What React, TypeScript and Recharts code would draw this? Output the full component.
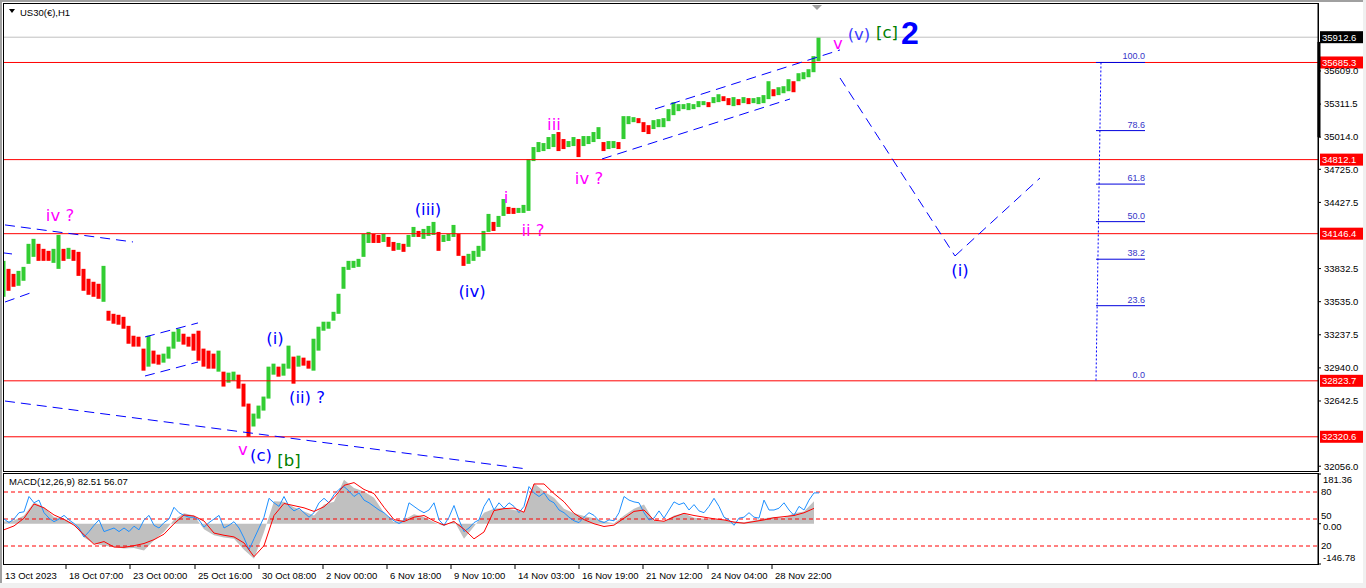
import React from 'react';
import {
  ComposedChart,
  Bar,
  Line,
  Area,
  XAxis,
  YAxis,
  ReferenceLine,
  ReferenceDot,
} from 'recharts';

const FONT = '"Liberation Sans", Arial, sans-serif';
const LABEL_FONT = '"DejaVu Sans", Verdana, sans-serif';
const STEP = 5; // one candle entry every 5 H1 bars
const SPAN = 1314; // bars across the plot, incl. the empty right shift

// price candles (high / low), oldest first
const highs = [
  33902, 33830, 33785, 33812, 33848, 34055, 34100, 34055, 34010, 33992,
  34010, 34135, 34010, 34019, 34001, 33983, 33830, 33741, 33714, 33696,
  33857, 33453, 33426, 33417, 33399, 33318, 33229, 33220, 33113, 33229,
  33095, 33059, 33068, 33131, 33265, 33292, 33247, 33220, 33247, 33274,
  33113, 33095, 33068, 33095, 32906, 32897, 32906, 32879, 32798, 32619,
  32529, 32601, 32682, 32951, 32978, 32951, 32978, 33140, 33041, 33050,
  33032, 33005, 33202, 33310, 33355, 33355, 33444, 33606, 33848, 33902,
  33902, 33920, 34144, 34162, 34144, 34135, 34144, 34117, 34072, 34063,
  34055, 34135, 34207, 34171, 34189, 34216, 34252, 34162, 34135, 34144,
  34225, 34144, 33947, 33965, 33992, 34037, 34171, 34324, 34252, 34306,
  34458, 34387, 34378, 34378, 34405, 34817, 34925, 34970, 34961, 35015,
  35042, 35060, 34997, 34979, 35015, 34997, 35024, 35024, 35060, 35104,
  34970, 34979, 34979, 34970, 35203, 35203, 35194, 35185, 35149, 35122,
  35167, 35176, 35185, 35266, 35328, 35311, 35311, 35320, 35311, 35338,
  35338, 35329, 35374, 35400, 35382, 35365, 35374, 35356, 35374, 35365,
  35365, 35374, 35392, 35517, 35445, 35463, 35472, 35535, 35517, 35589,
  35598, 35625, 35742, 35912,
];
const lows = [
  33579, 33633, 33669, 33678, 33723, 33875, 33938, 33902, 33902, 33902,
  33884, 33830, 33902, 33920, 33902, 33767, 33633, 33597, 33579, 33561,
  33534, 33364, 33337, 33328, 33292, 33157, 33131, 33131, 32915, 32951,
  32978, 32969, 32987, 33023, 33113, 33175, 33149, 33131, 33095, 33005,
  32951, 32933, 32933, 32906, 32772, 32807, 32825, 32754, 32592, 32321,
  32413, 32484, 32556, 32664, 32879, 32861, 32870, 32933, 32798, 32951,
  32960, 32933, 32915, 33095, 33274, 33292, 33364, 33426, 33651, 33821,
  33839, 33848, 33938, 34063, 34063, 34063, 34072, 34028, 33992, 34001,
  33983, 34028, 34117, 34117, 34100, 34126, 34135, 33992, 34072, 34081,
  34117, 33947, 33857, 33875, 33902, 33938, 33992, 34162, 34171, 34207,
  34306, 34324, 34324, 34333, 34333, 34351, 34799, 34880, 34889, 34907,
  34925, 34889, 34907, 34925, 34934, 34835, 34934, 34952, 34970, 34997,
  34889, 34907, 34916, 34907, 34997, 35131, 35149, 35140, 35060, 35042,
  35087, 35104, 35104, 35158, 35212, 35248, 35266, 35257, 35266, 35284,
  35302, 35284, 35320, 35329, 35338, 35302, 35293, 35302, 35320, 35311,
  35320, 35311, 35320, 35356, 35382, 35392, 35409, 35427, 35418, 35517,
  35535, 35553, 35598, 35697,
];

// MACD main (histogram) and signal, one value every 10 bars
const histogram = [
  8, 12, 30, 78, 60, 25, 18, 0, -50, -72,
  -80, -85, -90, -88, -98, -60, -30, 15, 38, 30,
  -20, -42, -50, -55, -95, -128, -30, 82, 80, 60,
  45, 30, 70, 80, 160, 130, 118, 95, 40, 5,
  15, 35, 25, 5, -8, 12, -55, -10, 40, 55,
  58, 50, 42, 148, 118, 95, 55, 38, 28, 20,
  8, 2, 30, 55, 70, 10, 8, 30, 38, 22,
  18, 16, 14, 8, 5, 12, 20, 25, 22, 38,
  45, 82,
];
const signal = [
  -22, -8, 20, 72, 58, 32, 16, -5, -40, -75,
  -65, -85, -86, -80, -72, -58, -38, 0, 32, 28,
  10, -34, -42, -48, -70, -120, -80, 30, 74, 66,
  58, 45, 62, 95, 140, 150, 125, 110, 60, 15,
  8, 24, 30, 10, -5, 8, -20, -55, -30, 48,
  55, 57, 42, 145, 145, 110, 80, 38, 15, 0,
  -10, -5, 20, 45, 50, 13, 9, 25, 38, 30,
  24, 18, 14, 6, 2, 8, 14, 22, 26, 30,
  40, 56,
];
// 0-100 oscillator drawn in the same window, one value every 5 bars
const oscillator = [
  50, 46, 50, 57, 58, 75, 68, 71, 57, 51,
  47, 50, 54, 49, 45, 40, 30, 36, 43, 49,
  36, 38, 40, 36, 40, 36, 42, 38, 49, 54,
  43, 40, 46, 50, 63, 57, 54, 52, 52, 49,
  41, 46, 50, 54, 40, 43, 47, 40, 29, 16,
  28, 40, 52, 73, 68, 64, 75, 64, 59, 62,
  57, 52, 57, 68, 73, 68, 77, 83, 86, 81,
  75, 79, 71, 68, 64, 60, 57, 52, 48, 45,
  48, 68, 64, 60, 57, 60, 68, 49, 43, 52,
  65, 49, 36, 40, 46, 49, 64, 73, 60, 68,
  62, 68, 64, 57, 64, 86, 79, 75, 79, 71,
  68, 60, 57, 52, 48, 46, 52, 57, 54, 48,
  46, 49, 48, 57, 75, 71, 69, 68, 57, 49,
  51, 59, 51, 60, 69, 66, 68, 60, 66, 59,
  57, 64, 73, 64, 52, 49, 43, 51, 52, 57,
  52, 51, 71, 60, 60, 62, 68, 60, 54, 64,
  60, 71, 79, 79,
];

const priceTicks = [35609, 35311.5, 35014, 34725, 34427.5, 33832.5, 33535, 33237.5, 32940, 32642.5, 32056];
const macdTicks = [181.36, 0, -146.78];
const oscLevels = [80, 50, 20];
const timeTicks = [0, 62, 126, 191, 255, 319, 383, 447, 511, 575, 639, 704, 768];
const timeLabels = [
  '13 Oct 2023', '18 Oct 07:00', '23 Oct 00:00', '25 Oct 16:00', '30 Oct 08:00', '2 Nov 00:00',
  '6 Nov 18:00', '9 Nov 10:00', '14 Nov 03:00', '16 Nov 19:00', '21 Nov 12:00', '24 Nov 04:00', '28 Nov 22:00',
];

const redLevels = [35685.3, 34812.1, 34146.4, 32823.7, 32320.6];
const lastPrice = 35912.6;
const fibLevels = ['100.0', '78.6', '61.8', '50.0', '38.2', '23.6', '0.0'];
const fibPrices = [35685.3, 35072.9, 34592.2, 34254.5, 33916.8, 33499.0, 32823.7];

const MAGENTA = '#ff00ff';
const BLUE = '#0000ff';
const GREEN_TXT = '#008000';

// trendlines drawn on the chart: [t1, p1, t2, p2]
const trendlines = [
  [1, 34225, 129, 34072],
  [0, 33973, 8, 33964],
  [1, 33532, 29, 33622],
  [141, 33218, 194, 33344],
  [141, 32867, 194, 32993],
  [1, 32642, 523, 32031],
  [598, 34818, 786, 35357],
  [651, 35267, 836, 35798],
  [836, 35546, 951, 33946],
  [951, 33946, 1036, 34647],
];

const waves = [
  { text: 'iv ?', t: 56, p: 34314, color: MAGENTA },
  { text: 'v', t: 239, p: 32211, color: MAGENTA },
  { text: '(c)', t: 257, p: 32157, color: BLUE },
  { text: '[b]', t: 285, p: 32112, color: GREEN_TXT },
  { text: '(i)', t: 271, p: 33209, color: BLUE },
  { text: '(ii) ?', t: 303, p: 32678, color: BLUE },
  { text: '(iii)', t: 424, p: 34368, color: BLUE },
  { text: '(iv)', t: 468, p: 33631, color: BLUE },
  { text: 'i', t: 502, p: 34476, color: MAGENTA },
  { text: 'ii ?', t: 529, p: 34180, color: MAGENTA },
  { text: 'iii', t: 550, p: 35133, color: MAGENTA },
  { text: 'iv ?', t: 585, p: 34647, color: MAGENTA },
  { text: 'v', t: 834, p: 35862, color: MAGENTA },
  { text: '(v)', t: 855, p: 35942, color: '#3c3cff' },
  { text: '[c]', t: 883, p: 35960, color: GREEN_TXT },
  { text: '(i)', t: 956, p: 33820, color: BLUE },
];

const candles = highs.map((h, i) => ({
  t: i * STEP,
  range: [lows[i], h],
  up: i === 0 || h + lows[i] >= highs[i - 1] + lows[i - 1],
}));

const macdRows = oscillator.map((v, i) => ({
  t: i * STEP,
  osc: v,
  hist: i % 2 === 0 ? histogram[i / 2] : undefined,
  sig: i % 2 === 0 ? signal[i / 2] : undefined,
}));

function Candle(props: any) {
  const { x, y, width, height, payload } = props;
  const top = height < 0 ? y + height : y;
  const h = Math.max(1, Math.abs(height));
  return <rect x={x} y={top} width={width} height={h} fill={payload.up ? '#32cd32' : '#ff0000'} />;
}

function PriceTick({ x, y, payload }: any) {
  return (
    <g>
      <line x1={x} x2={x + 3} y1={y} y2={y} stroke="#000" />
      <text x={x + 6} y={y} dy="0.35em" fontSize={9.5} fontFamily={FONT} fill="#000">
        {payload.value.toFixed(1)}
      </text>
    </g>
  );
}

function MacdTick({ x, y, payload }: any) {
  const v = payload.value;
  const shift = v === macdTicks[0] ? 6 : v === macdTicks[2] ? -6 : 3;
  return (
    <g>
      <line x1={x} x2={x + 3} y1={y} y2={y} stroke="#000" />
      <text x={x + 5} y={y + shift} dy="0.35em" fontSize={9.5} fontFamily={FONT} fill="#000">
        {v.toFixed(2)}
      </text>
    </g>
  );
}

function TimeTick({ x, y, payload }: any) {
  const i = timeTicks.indexOf(payload.value);
  return (
    <g>
      {i > 0 && <line x1={x} x2={x} y1={y + 1} y2={y + 5} stroke="#000" />}
      <text x={i > 0 ? x + 3 : x + 1} y={y + 15} fontSize={9.5} fontFamily={FONT} fill="#000">
        {timeLabels[i]}
      </text>
    </g>
  );
}

function PriceTag({ viewBox, text, bg }: any) {
  if (!viewBox) return null;
  const x = viewBox.x + viewBox.width + 2;
  return (
    <g>
      <rect x={x} y={viewBox.y - 6} width={44} height={12} fill={bg} />
      <text x={x + 2} y={viewBox.y} dy="0.35em" fontSize={9.5} fontFamily={FONT} fill="#fff">
        {text}
      </text>
    </g>
  );
}

function LevelTag({ viewBox, text }: any) {
  if (!viewBox) return null;
  // the 50 level sits right on the 0.00 tick, nudge it up a little
  const lift = text === '50' ? -3 : 0;
  return (
    <text x={viewBox.x + viewBox.width + 3} y={viewBox.y + lift} dy="0.35em" fontSize={9.5} fontFamily={FONT} fill="#000">
      {text}
    </text>
  );
}

function FibTag({ viewBox, text }: any) {
  if (!viewBox) return null;
  return (
    <text x={viewBox.x + viewBox.width} y={viewBox.y - 3} textAnchor="end" fontSize={9} fontFamily={FONT} fill="#3535c8">
      {text}
    </text>
  );
}

export default function App() {
  return (
    <div style={{ position: 'relative', width: 1366, height: 588, background: '#fff', overflow: 'hidden' }}>
      <style>{'body{margin:0}'}</style>

      <div style={{ position: 'absolute', left: 0, top: 0 }}>
        <ComposedChart width={1366} height={472} data={candles} margin={{ top: 4, right: 0, left: 4, bottom: 1 }}>
          <XAxis type="number" dataKey="t" domain={[0, SPAN]} allowDataOverflow hide />
          <YAxis
            orientation="right"
            width={48}
            domain={[32013, 36211]}
            allowDataOverflow
            ticks={priceTicks}
            interval={0}
            tick={<PriceTick />}
            tickLine={false}
            tickSize={0}
            tickMargin={0}
            axisLine={{ stroke: '#000' }}
          />
          <ReferenceLine y={lastPrice} stroke="#c0c0c0" label={<PriceTag text={lastPrice.toFixed(1)} bg="#000" />} />
          {redLevels.map(p => (
            <ReferenceLine key={p} y={p} stroke="#ff0000" label={<PriceTag text={p.toFixed(1)} bg="#ff0000" />} />
          ))}
          {trendlines.map((l, i) => (
            <ReferenceLine
              key={`tl-${i}`}
              segment={[{ x: l[0], y: l[1] }, { x: l[2], y: l[3] }]}
              stroke="#0000ff"
              strokeDasharray="10 6"
              ifOverflow="visible"
            />
          ))}
          <ReferenceLine
            segment={[{ x: 1097, y: fibPrices[0] }, { x: 1092, y: fibPrices[6] }]}
            stroke="#0000ff"
            strokeDasharray="2 2"
          />
          {fibPrices.map((p, i) => (
            <ReferenceLine
              key={`fib-${i}`}
              segment={[{ x: 1092, y: p }, { x: 1141, y: p }]}
              stroke={i === 6 ? 'none' : '#0000dd'}
              label={<FibTag text={fibLevels[i]} />}
            />
          ))}
          <ReferenceLine
            segment={[{ x: 1315, y: 35870 }, { x: 1315, y: 35014 }]}
            stroke="#000"
            strokeWidth={3}
            ifOverflow="visible"
          />
          <Bar dataKey="range" barSize={4} shape={<Candle />} isAnimationActive={false} />
          {waves.map((w, i) => (
            <ReferenceDot
              key={`w-${i}`}
              x={w.t}
              y={w.p}
              ifOverflow="visible"
              shape={(props: any) => (
                <text
                  x={props.cx}
                  y={props.cy}
                  dy="0.35em"
                  textAnchor="middle"
                  fontSize={16.5}
                  fontFamily={LABEL_FONT}
                  fill={w.color}
                >
                  {w.text}
                </text>
              )}
            />
          ))}
          <ReferenceDot
            x={906}
            y={35951}
            ifOverflow="visible"
            shape={(props: any) => (
              <text x={props.cx} y={props.cy} dy="0.36em" textAnchor="middle" fontSize={32} fontWeight="bold" fontFamily={FONT} fill="#0000ff">
                2
              </text>
            )}
          />
          <ReferenceDot
            x={813}
            y={36211}
            ifOverflow="visible"
            shape={(props: any) => (
              <polygon
                points={`${props.cx - 5},${props.cy + 1} ${props.cx + 5},${props.cy + 1} ${props.cx},${props.cy + 6}`}
                fill="#a0a0a0"
              />
            )}
          />
        </ComposedChart>
      </div>

      <div style={{ position: 'absolute', left: 0, top: 472 }}>
        <ComposedChart width={1366} height={116} data={macdRows} margin={{ top: 2, right: 0, left: 4, bottom: 4 }}>
          <XAxis
            type="number"
            dataKey="t"
            domain={[0, SPAN]}
            allowDataOverflow
            ticks={timeTicks}
            interval={0}
            height={20}
            tick={<TimeTick />}
            tickLine={false}
            tickSize={0}
            tickMargin={0}
            axisLine={false}
          />
          <YAxis
            yAxisId="macd"
            orientation="right"
            width={48}
            domain={[-146.78, 181.36]}
            allowDataOverflow
            ticks={macdTicks}
            interval={0}
            tick={<MacdTick />}
            tickLine={false}
            tickSize={0}
            tickMargin={0}
            axisLine={{ stroke: '#000' }}
          />
          <YAxis yAxisId="osc" hide domain={[0, 100]} />
          <Area
            yAxisId="macd"
            dataKey="hist"
            type="linear"
            baseValue={0}
            connectNulls
            fill="#c0c0c0"
            fillOpacity={1}
            stroke="none"
            isAnimationActive={false}
          />
          {oscLevels.map(v => (
            <ReferenceLine
              key={v}
              yAxisId="osc"
              y={v}
              stroke="#ff0000"
              strokeDasharray="4 3"
              label={<LevelTag text={String(v)} />}
            />
          ))}
          <Line
            yAxisId="osc"
            dataKey="osc"
            type="linear"
            stroke="#1e90ff"
            strokeWidth={1}
            dot={false}
            isAnimationActive={false}
          />
          <Line
            yAxisId="macd"
            dataKey="sig"
            type="linear"
            stroke="#ff0000"
            strokeWidth={1}
            dot={false}
            connectNulls
            isAnimationActive={false}
          />
        </ComposedChart>
      </div>

      <svg width={1366} height={588} style={{ position: 'absolute', left: 0, top: 0, pointerEvents: 'none' }}>
        <rect x={0} y={0} width={1366} height={2} fill="#a0a0a0" />
        <rect x={0} y={0} width={2} height={588} fill="#a0a0a0" />
        <rect x={1363} y={0} width={3} height={588} fill="#f0f0f0" />
        <rect x={0} y={583} width={1366} height={5} fill="#f0f0f0" />
        <rect x={3.5} y={3.5} width={1315} height={468} fill="none" stroke="#000" />
        <rect x={3.5} y={473.5} width={1315} height={91} fill="none" stroke="#000" />
        <polygon points="9,9 15,9 12,13" fill="#000" />
        <text x={20} y={15.5} fontSize={9.5} fontFamily={FONT} fill="#000">US30(€),H1</text>
        <text x={9} y={485} fontSize={9.5} fontFamily={FONT} fill="#000">MACD(12,26,9) 82.51 56.07</text>
      </svg>
    </div>
  );
}
